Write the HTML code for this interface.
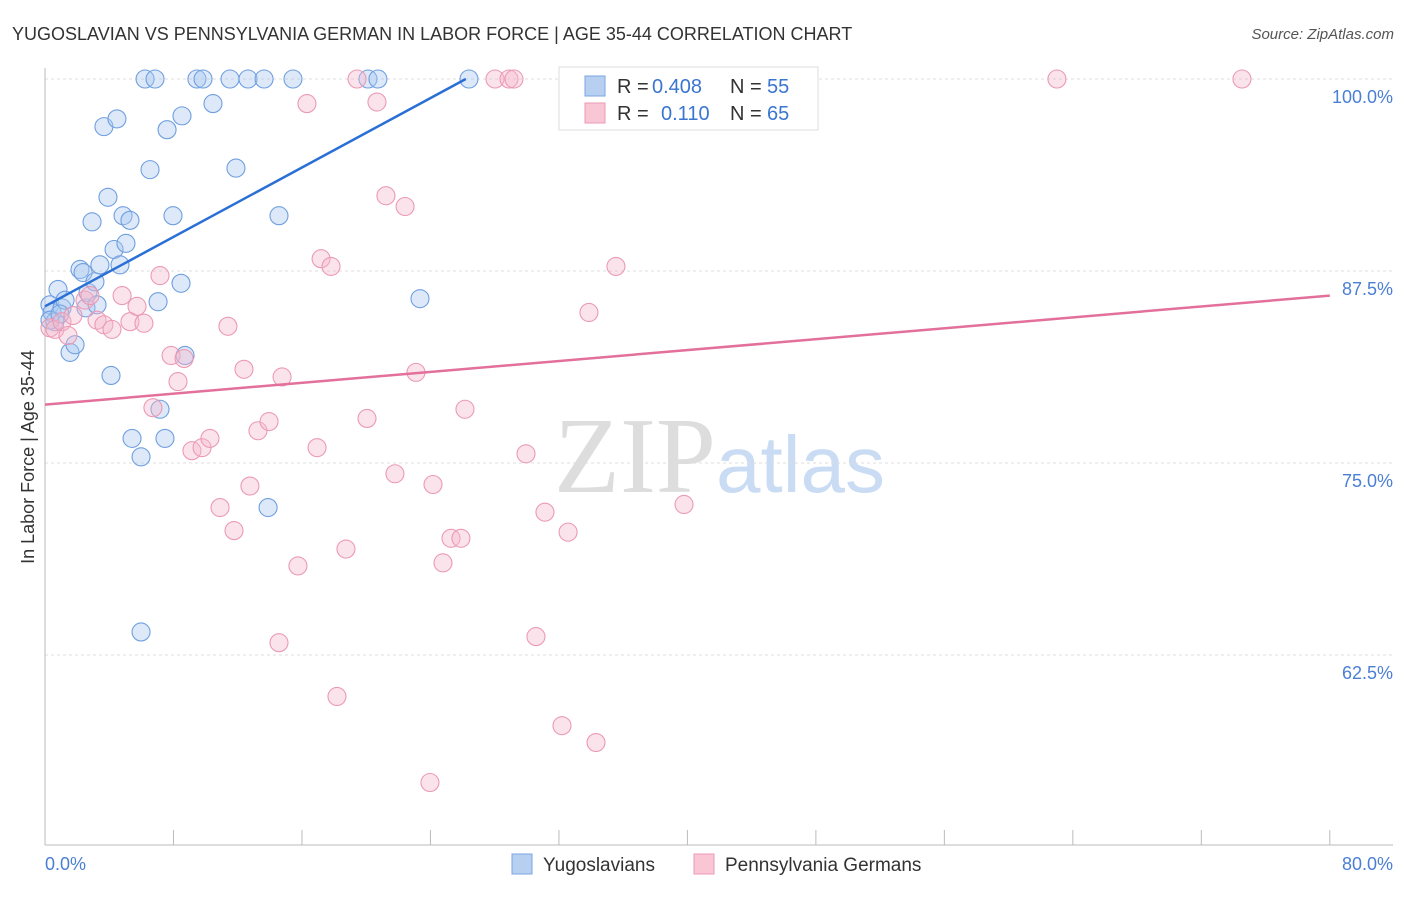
<!DOCTYPE html>
<html><head><meta charset="utf-8"><style>
body{margin:0;background:#fff;font-family:"Liberation Sans",sans-serif;}
</style></head><body>
<svg id="chart" width="1406" height="892" xmlns="http://www.w3.org/2000/svg" font-family="Liberation Sans, sans-serif">
<text x="12" y="40" font-size="18" fill="#333">YUGOSLAVIAN VS PENNSYLVANIA GERMAN IN LABOR FORCE | AGE 35-44 CORRELATION CHART</text>
<text x="1394" y="39" font-size="15" fill="#555" font-style="italic" text-anchor="end">Source: ZipAtlas.com</text>
<text x="716" y="492" font-size="108" fill="#ddd" text-anchor="end" font-family="Liberation Serif, serif">ZIP</text>
<text x="716" y="492" font-size="80" fill="#c9dcf3">atlas</text>
<g id="grid"></g><g id="axes"></g><g id="marks"></g><g id="lines"></g>
<text transform="translate(34,457) rotate(-90)" font-size="18" fill="#333" text-anchor="middle">In Labor Force | Age 35-44</text>
<text x="45" y="870" font-size="18" fill="#4a7fd4">0.0%</text>
<text x="1393" y="870" font-size="18" fill="#4a7fd4" text-anchor="end">80.0%</text>
<g>
<rect x="559" y="67" width="259" height="63" fill="#fff" stroke="#ddd"/>
<rect x="585" y="76" width="20" height="20" fill="#b7d0f2" stroke="#7aa6e0"/>
<rect x="585" y="103" width="20" height="20" fill="#f9c6d6" stroke="#eb9ab5"/>
<text x="617" y="93" font-size="20" fill="#333">R =</text>
<text x="652" y="93" font-size="20" fill="#3a76d0">0.408</text>
<text x="730" y="93" font-size="20" fill="#333">N =</text>
<text x="767" y="93" font-size="20" fill="#3a76d0">55</text>
<text x="617" y="120" font-size="20" fill="#333">R =</text>
<text x="661" y="120" font-size="20" fill="#3a76d0">0.110</text>
<text x="730" y="120" font-size="20" fill="#333">N =</text>
<text x="767" y="120" font-size="20" fill="#3a76d0">65</text>
</g>
<g>
<rect x="512" y="854" width="20" height="20" fill="#b7d0f2" stroke="#7aa6e0"/>
<text x="543" y="871" font-size="19" fill="#333">Yugoslavians</text>
<rect x="694" y="854" width="20" height="20" fill="#f9c6d6" stroke="#eb9ab5"/>
<text x="725" y="871" font-size="19" fill="#333">Pennsylvania Germans</text>
</g>
</svg>
<script>
const blueX=[0.31,0.44,0.62,0.81,1.06,1.25,1.56,1.87,2.18,2.37,2.55,2.68,2.93,3.11,3.24,3.42,3.67,3.92,4.11,4.30,4.48,4.67,4.86,5.04,5.29,5.42,5.98,5.98,6.23,6.54,6.85,7.04,7.16,7.47,7.60,7.97,8.47,8.53,8.72,9.46,9.84,10.46,11.52,11.89,12.64,13.64,13.89,14.57,15.44,20.11,20.73,23.35,26.40,0.31,0.93];
const blueY=[85.3,84.8,84.2,86.3,85.1,85.6,82.2,82.7,87.6,87.4,85.1,86.1,90.7,86.8,85.3,87.9,96.9,92.3,80.7,88.9,97.4,87.9,91.1,89.3,90.8,76.6,75.4,64.0,100,94.1,100,85.5,78.5,76.6,96.7,91.1,86.7,97.6,82.0,100,100,98.4,100,94.2,100,100,72.1,91.1,100,100,100,85.7,100,84.3,84.7];
const pinkX=[0.31,0.62,1.06,1.43,1.74,2.49,2.80,3.24,3.67,4.17,4.80,5.29,5.73,6.16,6.72,7.16,7.85,8.28,8.66,9.15,9.78,10.27,10.90,11.39,11.77,12.39,12.76,13.26,13.95,14.57,14.76,15.75,16.31,16.94,17.19,17.81,18.18,18.74,19.43,20.05,20.67,21.23,21.79,22.42,23.10,24.16,24.78,25.28,25.90,26.15,23.97,28.02,28.89,29.20,29.95,30.57,31.13,32.19,32.57,33.87,34.31,35.55,39.79,47.01,63.01,74.53];
const pinkY=[83.8,83.7,84.2,83.3,84.6,85.6,85.9,84.3,84.0,83.7,85.9,84.2,85.2,84.1,78.6,87.2,82.0,80.3,81.8,75.8,76.0,76.6,72.1,83.9,70.6,81.1,73.5,77.1,77.7,63.3,80.6,68.3,98.4,76.0,88.3,87.8,59.8,69.4,100,77.9,98.5,92.4,74.3,91.7,80.9,73.6,68.5,70.1,70.1,78.5,54.2,100,100,100,75.6,63.7,71.8,57.9,70.5,84.8,56.8,87.8,72.3,100,100,100];
const blueTrend=[[0,85.2],[26.2,100]];
const pinkTrend=[[0,78.8],[80,85.9]];
const yTicks=[100,87.5,75,62.5];
const yTickLabels=["100.0%","87.5%","75.0%","62.5%"];
const xTicks=[0,8,16,24,32,40,48,56,64,72,80];

const NS="http://www.w3.org/2000/svg";
const sx=v=>45+v*16.06;
const sy=v=>79+(100-v)*15.36;
function mk(tag,attrs,parent){const e=document.createElementNS(NS,tag);for(const k in attrs)e.setAttribute(k,attrs[k]);document.getElementById(parent).appendChild(e);return e;}
yTicks.forEach((t,i)=>{
 const g=mk('line',{x1:45,x2:1393,y1:sy(t),y2:sy(t),stroke:'#ddd','stroke-dasharray':'3,3'},'grid');
 
 
 const l=mk('text',{x:1393,y:sy(t)+24,'font-size':18,fill:'#4a7fd4','text-anchor':'end'},'grid');
 l.textContent=yTickLabels[i];
 
 
});
const ax=mk('line',{x1:45,x2:45,y1:68,y2:845,stroke:'#bbb'},'axes');


const bx=mk('line',{x1:45,x2:1393,y1:845,y2:845,stroke:'#bbb'},'axes');


xTicks.forEach(t=>{
 const e=mk('line',{x1:sx(t),x2:sx(t),y1:830,y2:845,stroke:'#bbb'},'axes');
 
 
});
function dots(X,Y,fill,stroke,name){
 X.forEach((x,i)=>{
  const c=mk('circle',{cx:sx(x),cy:sy(Y[i]),r:9,fill:fill,'fill-opacity':0.4,stroke:stroke,'stroke-width':1.1},'marks');
  
  
 });
}
dots(blueX,blueY,'#a9c8f0','#6f9fdf','yugoslavian-point');
dots(pinkX,pinkY,'#f5b8cc','#eb9ab5','pennsylvania-german-point');
const bl=mk('line',{x1:sx(blueTrend[0][0]),y1:sy(blueTrend[0][1]),x2:sx(blueTrend[1][0]),y2:sy(blueTrend[1][1]),stroke:'#2a6fd6','stroke-width':2.5},'lines');


const pl=mk('line',{x1:sx(pinkTrend[0][0]),y1:sy(pinkTrend[0][1]),x2:sx(pinkTrend[1][0]),y2:sy(pinkTrend[1][1]),stroke:'#e3709a','stroke-width':2.5},'lines');


</script>
</body></html>
